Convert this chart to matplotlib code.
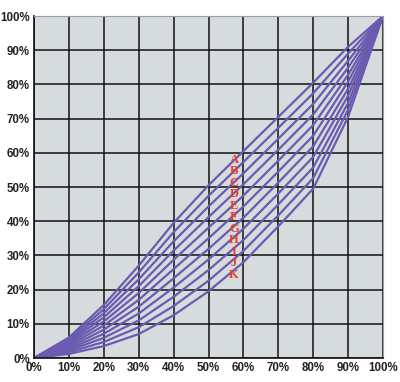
import numpy as np
import matplotlib
matplotlib.use('Agg')
import matplotlib.pyplot as plt

# cumulative share of population (%)
x = [0, 10, 20, 30, 40, 50, 60, 70, 80, 90, 100]

# curves A..K (%)
A = [0, 6.0, 15.5, 27.0, 39.5, 50.5, 60.5, 70.5, 80.5, 91.0, 100]
B = [0, 5.5, 14.3, 25.0, 36.8, 47.4, 57.3, 67.3, 77.4, 89.0, 100]
C = [0, 5.0, 13.1, 23.0, 34.1, 44.3, 54.0, 64.1, 74.3, 86.9, 100]
D = [0, 4.6, 11.9, 21.0, 31.4, 41.2, 50.8, 60.9, 71.2, 84.9, 100]
E = [0, 4.1, 10.7, 19.0, 28.7, 38.1, 47.5, 57.7, 68.1, 82.8, 100]
F = [0, 3.6, 9.5, 17.0, 26.0, 35.0, 44.3, 54.5, 65.0, 80.8, 100]
G = [0, 3.1, 8.3, 15.0, 23.3, 31.9, 41.0, 51.3, 61.9, 78.7, 100]
H = [0, 2.6, 7.1, 13.0, 20.6, 28.8, 37.8, 48.1, 58.8, 76.7, 100]
I = [0, 2.2, 5.9, 11.0, 17.9, 25.7, 34.5, 44.9, 55.7, 74.6, 100]
J = [0, 1.7, 4.7, 9.0, 15.2, 22.6, 31.3, 41.7, 52.6, 72.6, 100]
K = [0, 1.2, 3.5, 7.0, 12.5, 19.5, 28.0, 38.5, 49.5, 70.5, 100]

curves = [A, B, C, D, E, F, G, H, I, J, K]
names = ['A', 'B', 'C', 'D', 'E', 'F', 'G', 'H', 'I', 'J', 'K']
label_y = [58, 54.6, 51.2, 47.9, 44.5, 41.1, 37.8, 34.4, 31.0, 27.7, 24.3]

fig = plt.figure(figsize=(4, 3.82), dpi=100)
ax = fig.add_axes([0.085, 0.0628, 0.8725, 0.8953])
ax.set_facecolor('#d6dbdd')

for c in curves:
    ax.plot(x, c, color='#6a5bb0', lw=1.6, solid_joinstyle='round')

for n, yy in zip(names, label_y):
    ax.text(57.3, yy, n, color='#f03a26', fontsize=9, fontweight='bold',
            family='Liberation Serif', ha='center', va='center')

ax.set_xlim(0, 100)
ax.set_ylim(0, 100)
ticks = np.arange(0, 101, 10)
ax.set_xticks(ticks)
ax.set_yticks(ticks)
ax.set_xticklabels([f'{t}%' for t in ticks])
ax.set_yticklabels([f'{t}%' for t in ticks])
for lab in ax.get_xticklabels() + ax.get_yticklabels():
    lab.set_fontweight('bold')
    lab.set_family('Liberation Sans')
    lab.set_fontsize(8.3)
    lab.set_color('#222222')
ax.tick_params(length=0, pad=3)
ax.grid(True, color='#111111', lw=1.1)
ax.set_axisbelow(True)
for s in ['left', 'bottom']:
    ax.spines[s].set_color('#111111')
    ax.spines[s].set_linewidth(1.2)
for s in ['top', 'right']:
    ax.spines[s].set_color('#9a9fa2')
    ax.spines[s].set_linewidth(0.8)

plt.savefig('out.png', dpi=100)
